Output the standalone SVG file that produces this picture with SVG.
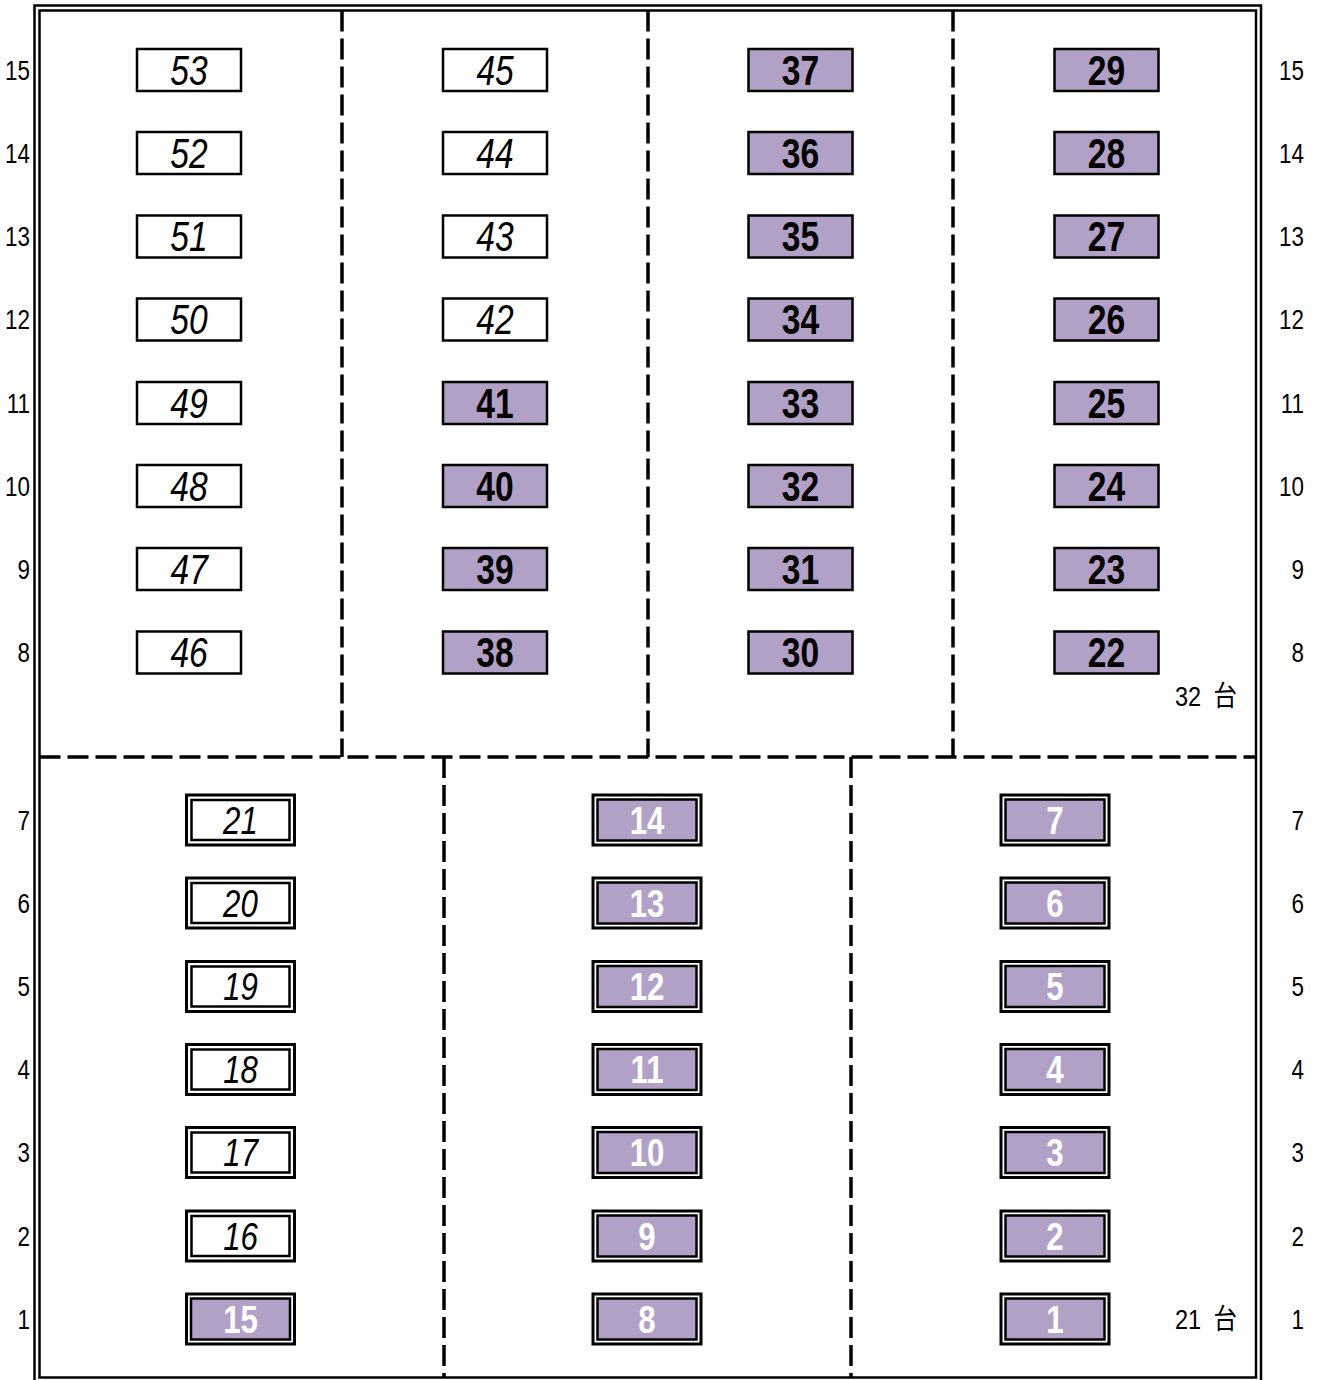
<svg xmlns="http://www.w3.org/2000/svg" width="1319" height="1380" viewBox="0 0 1319 1380">
<style>
.frame{fill:none;stroke:#000;stroke-width:2.5}
.div{fill:none;stroke:#000;stroke-width:3.5;stroke-dasharray:21 7}
.bw{fill:#fff;stroke:#000;stroke-width:2.5}
.bp{fill:#B2A1C7;stroke:#000;stroke-width:2.5}
.ob{fill:#fff;stroke:#000;stroke-width:3}
.t{font-family:"Liberation Sans",Arial,sans-serif;text-anchor:middle;transform-box:fill-box;transform-origin:center;transform:scaleX(0.8)}
.ti{font-size:42px;font-style:italic;fill:#000}
.tp{font-size:42px;font-weight:bold;fill:#000}
.bi{font-size:39px;font-style:italic;fill:#000}
.bpw{font-size:39px;font-weight:bold;fill:#fff}
.lab{font-family:"Liberation Sans",Arial,sans-serif;font-size:28px;fill:#000;text-anchor:end;transform-box:fill-box;transform-origin:right center;transform:scaleX(0.8)}
.cnt{font-family:"Liberation Sans","Noto Sans CJK JP",sans-serif;font-size:28px;fill:#000;text-anchor:end;word-spacing:7px;transform-box:fill-box;transform-origin:right center;transform:scaleX(0.84)}
</style>
<rect width="1319" height="1380" fill="#fff"/>
<g id="frame">
<rect class="frame" x="34.5" y="5.5" width="1226.5" height="1380"/>
<rect class="frame" x="39.5" y="10.5" width="1216.5" height="1367"/>
</g>
<g id="connectors">
<line class="div" x1="39.5" y1="757" x2="1256" y2="757"/>
<line class="div" x1="342" y1="10.5" x2="342" y2="757"/>
<line class="div" x1="648" y1="10.5" x2="648" y2="757"/>
<line class="div" x1="953" y1="10.5" x2="953" y2="757"/>
<line class="div" x1="444" y1="757" x2="444" y2="1377"/>
<line class="div" x1="851" y1="757" x2="851" y2="1377"/>
</g>
<g id="row-labels">
<text class="lab" x="30" y="80">15</text><text class="lab" x="30" y="163">14</text><text class="lab" x="30" y="246.5">13</text><text class="lab" x="30" y="329.5">12</text><text class="lab" x="30" y="413">11</text><text class="lab" x="30" y="496">10</text><text class="lab" x="30" y="579">9</text><text class="lab" x="30" y="662.5">8</text>
<text class="lab" x="30" y="830">7</text><text class="lab" x="30" y="913">6</text><text class="lab" x="30" y="996.5">5</text><text class="lab" x="30" y="1079.5">4</text><text class="lab" x="30" y="1162.5">3</text><text class="lab" x="30" y="1246">2</text><text class="lab" x="30" y="1329">1</text>
<text class="lab" x="1304" y="80">15</text><text class="lab" x="1304" y="163">14</text><text class="lab" x="1304" y="246.5">13</text><text class="lab" x="1304" y="329.5">12</text><text class="lab" x="1304" y="413">11</text><text class="lab" x="1304" y="496">10</text><text class="lab" x="1304" y="579">9</text><text class="lab" x="1304" y="662.5">8</text>
<text class="lab" x="1304" y="830">7</text><text class="lab" x="1304" y="913">6</text><text class="lab" x="1304" y="996.5">5</text><text class="lab" x="1304" y="1079.5">4</text><text class="lab" x="1304" y="1162.5">3</text><text class="lab" x="1304" y="1246">2</text><text class="lab" x="1304" y="1329">1</text>
<text class="cnt" x="1237" y="706">32 台</text>
<text class="cnt" x="1237" y="1329">21 台</text>
</g>
<!-- top column 1 -->
<g id="n53"><rect class="bw" x="137" y="49" width="104" height="42"/><text class="t ti" x="189" y="85">53</text></g>
<g id="n52"><rect class="bw" x="137" y="132" width="104" height="42"/><text class="t ti" x="189" y="168">52</text></g>
<g id="n51"><rect class="bw" x="137" y="215.5" width="104" height="42"/><text class="t ti" x="189" y="251.5">51</text></g>
<g id="n50"><rect class="bw" x="137" y="298.5" width="104" height="42"/><text class="t ti" x="189" y="334.5">50</text></g>
<g id="n49"><rect class="bw" x="137" y="382" width="104" height="42"/><text class="t ti" x="189" y="418">49</text></g>
<g id="n48"><rect class="bw" x="137" y="465" width="104" height="42"/><text class="t ti" x="189" y="501">48</text></g>
<g id="n47"><rect class="bw" x="137" y="548" width="104" height="42"/><text class="t ti" x="189" y="584">47</text></g>
<g id="n46"><rect class="bw" x="137" y="631.5" width="104" height="42"/><text class="t ti" x="189" y="667.5">46</text></g>
<!-- top column 2 -->
<g id="n45"><rect class="bw" x="443" y="49" width="104" height="42"/><text class="t ti" x="495" y="85">45</text></g>
<g id="n44"><rect class="bw" x="443" y="132" width="104" height="42"/><text class="t ti" x="495" y="168">44</text></g>
<g id="n43"><rect class="bw" x="443" y="215.5" width="104" height="42"/><text class="t ti" x="495" y="251.5">43</text></g>
<g id="n42"><rect class="bw" x="443" y="298.5" width="104" height="42"/><text class="t ti" x="495" y="334.5">42</text></g>
<g id="n41"><rect class="bp" x="443" y="382" width="104" height="42"/><text class="t tp" x="495" y="418">41</text></g>
<g id="n40"><rect class="bp" x="443" y="465" width="104" height="42"/><text class="t tp" x="495" y="501">40</text></g>
<g id="n39"><rect class="bp" x="443" y="548" width="104" height="42"/><text class="t tp" x="495" y="584">39</text></g>
<g id="n38"><rect class="bp" x="443" y="631.5" width="104" height="42"/><text class="t tp" x="495" y="667.5">38</text></g>
<!-- top column 3 -->
<g id="n37"><rect class="bp" x="748.5" y="49" width="104" height="42"/><text class="t tp" x="800.5" y="85">37</text></g>
<g id="n36"><rect class="bp" x="748.5" y="132" width="104" height="42"/><text class="t tp" x="800.5" y="168">36</text></g>
<g id="n35"><rect class="bp" x="748.5" y="215.5" width="104" height="42"/><text class="t tp" x="800.5" y="251.5">35</text></g>
<g id="n34"><rect class="bp" x="748.5" y="298.5" width="104" height="42"/><text class="t tp" x="800.5" y="334.5">34</text></g>
<g id="n33"><rect class="bp" x="748.5" y="382" width="104" height="42"/><text class="t tp" x="800.5" y="418">33</text></g>
<g id="n32"><rect class="bp" x="748.5" y="465" width="104" height="42"/><text class="t tp" x="800.5" y="501">32</text></g>
<g id="n31"><rect class="bp" x="748.5" y="548" width="104" height="42"/><text class="t tp" x="800.5" y="584">31</text></g>
<g id="n30"><rect class="bp" x="748.5" y="631.5" width="104" height="42"/><text class="t tp" x="800.5" y="667.5">30</text></g>
<!-- top column 4 -->
<g id="n29"><rect class="bp" x="1054.5" y="49" width="104" height="42"/><text class="t tp" x="1106.5" y="85">29</text></g>
<g id="n28"><rect class="bp" x="1054.5" y="132" width="104" height="42"/><text class="t tp" x="1106.5" y="168">28</text></g>
<g id="n27"><rect class="bp" x="1054.5" y="215.5" width="104" height="42"/><text class="t tp" x="1106.5" y="251.5">27</text></g>
<g id="n26"><rect class="bp" x="1054.5" y="298.5" width="104" height="42"/><text class="t tp" x="1106.5" y="334.5">26</text></g>
<g id="n25"><rect class="bp" x="1054.5" y="382" width="104" height="42"/><text class="t tp" x="1106.5" y="418">25</text></g>
<g id="n24"><rect class="bp" x="1054.5" y="465" width="104" height="42"/><text class="t tp" x="1106.5" y="501">24</text></g>
<g id="n23"><rect class="bp" x="1054.5" y="548" width="104" height="42"/><text class="t tp" x="1106.5" y="584">23</text></g>
<g id="n22"><rect class="bp" x="1054.5" y="631.5" width="104" height="42"/><text class="t tp" x="1106.5" y="667.5">22</text></g>
<!-- bottom column 1 -->
<g id="n21"><rect class="ob" x="186.5" y="795" width="108" height="50"/><rect class="bw" x="191.5" y="800" width="98" height="40"/><text class="t bi" x="240.5" y="834">21</text></g>
<g id="n20"><rect class="ob" x="186.5" y="878" width="108" height="50"/><rect class="bw" x="191.5" y="883" width="98" height="40"/><text class="t bi" x="240.5" y="917">20</text></g>
<g id="n19"><rect class="ob" x="186.5" y="961.5" width="108" height="50"/><rect class="bw" x="191.5" y="966.5" width="98" height="40"/><text class="t bi" x="240.5" y="1000.5">19</text></g>
<g id="n18"><rect class="ob" x="186.5" y="1044.5" width="108" height="50"/><rect class="bw" x="191.5" y="1049.5" width="98" height="40"/><text class="t bi" x="240.5" y="1083.5">18</text></g>
<g id="n17"><rect class="ob" x="186.5" y="1127.5" width="108" height="50"/><rect class="bw" x="191.5" y="1132.5" width="98" height="40"/><text class="t bi" x="240.5" y="1166.5">17</text></g>
<g id="n16"><rect class="ob" x="186.5" y="1211" width="108" height="50"/><rect class="bw" x="191.5" y="1216" width="98" height="40"/><text class="t bi" x="240.5" y="1250">16</text></g>
<g id="n15"><rect class="ob" x="186.5" y="1294" width="108" height="50"/><rect class="bp" x="191" y="1298.5" width="99" height="41"/><text class="t bpw" x="240.5" y="1333">15</text></g>
<!-- bottom column 2 -->
<g id="n14"><rect class="ob" x="593" y="795" width="108" height="50"/><rect class="bp" x="597.5" y="799.5" width="99" height="41"/><text class="t bpw" x="647" y="834">14</text></g>
<g id="n13"><rect class="ob" x="593" y="878" width="108" height="50"/><rect class="bp" x="597.5" y="882.5" width="99" height="41"/><text class="t bpw" x="647" y="917">13</text></g>
<g id="n12"><rect class="ob" x="593" y="961.5" width="108" height="50"/><rect class="bp" x="597.5" y="966" width="99" height="41"/><text class="t bpw" x="647" y="1000.5">12</text></g>
<g id="n11"><rect class="ob" x="593" y="1044.5" width="108" height="50"/><rect class="bp" x="597.5" y="1049" width="99" height="41"/><text class="t bpw" x="647" y="1083.5">11</text></g>
<g id="n10"><rect class="ob" x="593" y="1127.5" width="108" height="50"/><rect class="bp" x="597.5" y="1132" width="99" height="41"/><text class="t bpw" x="647" y="1166.5">10</text></g>
<g id="n9"><rect class="ob" x="593" y="1211" width="108" height="50"/><rect class="bp" x="597.5" y="1215.5" width="99" height="41"/><text class="t bpw" x="647" y="1250">9</text></g>
<g id="n8"><rect class="ob" x="593" y="1294" width="108" height="50"/><rect class="bp" x="597.5" y="1298.5" width="99" height="41"/><text class="t bpw" x="647" y="1333">8</text></g>
<!-- bottom column 3 -->
<g id="n7"><rect class="ob" x="1001" y="795" width="108" height="50"/><rect class="bp" x="1005.5" y="799.5" width="99" height="41"/><text class="t bpw" x="1055" y="834">7</text></g>
<g id="n6"><rect class="ob" x="1001" y="878" width="108" height="50"/><rect class="bp" x="1005.5" y="882.5" width="99" height="41"/><text class="t bpw" x="1055" y="917">6</text></g>
<g id="n5"><rect class="ob" x="1001" y="961.5" width="108" height="50"/><rect class="bp" x="1005.5" y="966" width="99" height="41"/><text class="t bpw" x="1055" y="1000.5">5</text></g>
<g id="n4"><rect class="ob" x="1001" y="1044.5" width="108" height="50"/><rect class="bp" x="1005.5" y="1049" width="99" height="41"/><text class="t bpw" x="1055" y="1083.5">4</text></g>
<g id="n3"><rect class="ob" x="1001" y="1127.5" width="108" height="50"/><rect class="bp" x="1005.5" y="1132" width="99" height="41"/><text class="t bpw" x="1055" y="1166.5">3</text></g>
<g id="n2"><rect class="ob" x="1001" y="1211" width="108" height="50"/><rect class="bp" x="1005.5" y="1215.5" width="99" height="41"/><text class="t bpw" x="1055" y="1250">2</text></g>
<g id="n1"><rect class="ob" x="1001" y="1294" width="108" height="50"/><rect class="bp" x="1005.5" y="1298.5" width="99" height="41"/><text class="t bpw" x="1055" y="1333">1</text></g>
</svg>
